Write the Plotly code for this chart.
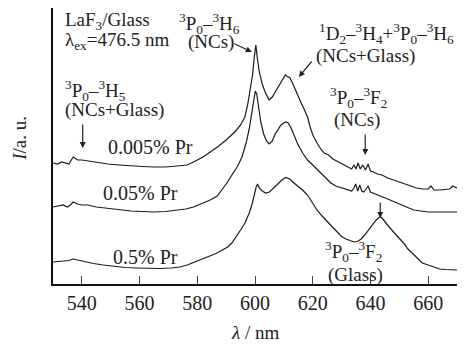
import plotly.graph_objects as go

# 0.005% Pr (top curve)
top_x = [530, 531.5, 533, 534.5, 535.5, 537, 538.5, 540, 542, 545, 549, 553, 557, 561, 565, 569, 573,
         576.5, 578.7, 580, 582, 584, 587, 590, 593, 595, 596.5, 597.5, 598.5, 599.2, 599.8, 600.3,
         600.8, 601.5, 602.5, 603.5, 604.9, 606, 607, 608, 609, 609.8, 610.5, 611.2, 612, 613, 614,
         615, 616, 617, 618.2, 619.2, 620.2, 621.7, 623, 624, 625.5, 627, 629, 631, 632.5, 633.5,
         634.3, 635, 635.7, 636.5, 637.3, 638.3, 639.2, 640, 641, 642.5, 644, 646, 648, 650, 652,
         654, 656, 658, 660, 661, 662, 664, 666, 667.5, 668.5, 670]
top_y = [121, 120, 122, 121, 120, 127, 124, 124, 123, 122, 120, 119, 118, 117.5, 117, 117, 118,
         119, 122, 124, 127, 131, 137, 144, 152, 159, 167, 180, 197, 210, 228, 239,
         226, 212, 200, 192, 184, 187, 192, 197, 203, 207, 209, 207.5, 206.5, 201, 194,
         187, 181, 175, 167, 156, 148, 140, 134, 131, 129, 125, 122, 119, 117, 115,
         119, 115, 121, 115, 119, 114, 120, 113, 112, 110, 109, 106, 104, 102, 100,
         98, 96, 95, 95, 98, 94, 94, 95, 95, 98, 96]

# 0.05% Pr (middle curve)
mid_x = [530, 531.5, 533.5, 535, 536, 537, 538.5, 540, 542, 545, 549, 553, 557, 561, 565, 569, 573,
         576, 578.7, 580.5, 582.2, 584.5, 586.9, 588.5, 590, 592, 594, 595.5, 597, 598, 598.8, 599.5,
         600.1, 600.6, 601.2, 602, 603, 604, 604.9, 606, 607, 608, 609, 610, 610.7, 611.5, 612.5,
         613.5, 614.8, 616.5, 618.2, 620, 621.7, 624, 626.3, 628, 630, 632, 633.5, 634.3, 634.9,
         635.6, 636.3, 637, 637.7, 638.5, 639.2, 640, 641.5, 643.4, 646, 648.3, 650.5, 652.5, 655,
         657, 660, 663, 666, 668.5, 670]
mid_y = [77, 78, 79, 77, 79, 82, 80, 79, 79, 77, 75.5, 74, 73, 72.5, 72, 72.5, 73.5,
         75, 77, 79, 81, 84, 88, 94, 100, 109, 118, 127, 142, 155, 168, 182,
         193, 190, 176, 162, 150, 143, 140, 143, 150, 155, 159, 161, 162, 161, 156,
         149, 140, 131, 124, 119, 114, 107, 101, 98, 96, 94, 93, 96, 100,
         93, 99, 93, 92, 95, 98, 92, 90, 88, 85, 82, 79, 77, 74,
         73, 72, 72, 72, 72, 72]

# 0.5% Pr (bottom curve)
bot_x = [530, 532, 534, 535.5, 537, 539, 541.6, 544, 547.4, 551, 555, 559, 563, 567, 571, 574, 576.5,
         579, 582.2, 584.5, 586.5, 588.7, 590.5, 592, 593.5, 595, 596.5, 598, 599.1, 599.8, 600.4,
         600.9, 601.5, 602.5, 603.7, 605, 606.5, 608, 609.5, 610.7, 612, 613.5, 614.8, 616.5, 618.2,
         620, 621.7, 623.9, 626.3, 628, 629.8, 631.5, 633.3, 634.3, 635.5, 636.8, 638, 639, 640,
         641, 642, 642.8, 643.4, 644, 645, 646.5, 648.3, 650, 651.5, 653, 655, 656.5, 658, 660,
         662.2, 664, 666, 668, 670]
bot_y = [22, 22.5, 23, 23.5, 25, 23.5, 22, 20.5, 19, 17.5, 16.5, 16, 15.5, 15.5, 16, 17, 19,
         22, 26, 28.5, 30.5, 34, 37, 41, 47, 54, 61, 71, 81, 90, 97,
         100, 96, 93, 91, 92, 96, 101, 104.5, 106.5, 105, 101, 98, 94, 89,
         81, 73, 66, 59, 53, 48, 45, 43, 42, 42.5, 45, 49, 53, 57,
         61, 64, 66, 67.5, 66, 62, 57, 51, 46, 41, 35, 29, 25, 21, 19,
         16.5, 15, 14.5, 14, 14]

x_ticks = [540, 560, 580, 600, 620, 640, 660]

FONT = "Liberation Serif"
TXT = "#222"
LINE = "#1a1a1a"

fig = go.Figure()
for xs, ys, name in [(top_x, top_y, "0.005% Pr"), (mid_x, mid_y, "0.05% Pr"), (bot_x, bot_y, "0.5% Pr")]:
    fig.add_trace(go.Scatter(x=xs, y=ys, mode="lines", name=name,
                             line=dict(color=LINE, width=1.2), showlegend=False))

def txt(x, y, s, anchor="center", size=19):
    return dict(x=x, y=y, xref="x", yref="y", text=s, showarrow=False,
                xanchor=anchor, yanchor="middle", font=dict(family=FONT, size=size, color=TXT))

def arrow(x, y, ax, ay):
    return dict(x=x, y=y, xref="x", yref="y", text="", showarrow=True, ax=ax, ay=ay,
                arrowhead=2, arrowsize=1, arrowwidth=1.2, arrowcolor=TXT)

annotations = [
    txt(533.3, 263, "LaF<sub>3</sub>/Glass", "left"),
    txt(533.3, 243, "λ<sub>ex</sub>=476.5 nm", "left"),
    txt(584.3, 261, "<sup>3</sup>P<sub>0</sub>–<sup>3</sup>H<sub>6</sub>"),
    txt(584.6, 242, "(NCs)"),
    arrow(598.9, 232, -19, -9),
    txt(533.3, 194, "<sup>3</sup>P<sub>0</sub>–<sup>3</sup>H<sub>5</sub>", "left"),
    txt(533.3, 174, "(NCs+Glass)", "left"),
    arrow(540.3, 136, 0, -25),
    txt(563.7, 137, "0.005% Pr", size=20),
    txt(560.3, 91, "0.05% Pr", size=20),
    txt(562.0, 27, "0.5% Pr", size=20),
    txt(669.5, 251, "<sup>1</sup>D<sub>2</sub>–<sup>3</sup>H<sub>4</sub>+<sup>3</sup>P<sub>0</sub>–<sup>3</sup>H<sub>6</sub>", "right"),
    txt(638.2, 228, "(NCs+Glass)"),
    arrow(615.2, 207, 14, -17),
    txt(635.7, 187, "<sup>3</sup>P<sub>0</sub>–<sup>3</sup>F<sub>2</sub>"),
    txt(635.4, 164, "(NCs)"),
    arrow(638.2, 129, 0, -22),
    txt(634.3, 33, "<sup>3</sup>P<sub>0</sub>–<sup>3</sup>F<sub>2</sub>"),
    txt(634.7, 9, "(Glass)"),
    arrow(643.4, 66, 0, -17),
    # axis titles
    dict(x=-0.082, y=0.529, xref="paper", yref="paper", text="<i>I</i>/a. u.", showarrow=False,
         textangle=-90, xanchor="center", yanchor="middle", font=dict(family=FONT, size=19, color=TXT)),
    dict(x=0.500, y=-0.176, xref="paper", yref="paper", text="<i>λ</i> / nm", showarrow=False,
         xanchor="center", yanchor="middle", font=dict(family=FONT, size=19, color=TXT)),
]

# the page body adds an 8 px offset, so the figure is sized to fit the 465x345 window
fig.update_layout(
    width=457, height=337,
    margin=dict(l=45, r=8, t=0, b=61),
    paper_bgcolor="white", plot_bgcolor="white",
    font=dict(family=FONT, size=20, color=TXT),
    annotations=annotations,
    xaxis=dict(range=[530, 670], tickvals=x_ticks, ticks="inside", ticklen=8, tickwidth=1,
               tickcolor="#444", showline=True, linecolor="#111", linewidth=1.5, mirror=True,
               showgrid=False, zeroline=False, automargin=False,
               tickfont=dict(family=FONT, size=20, color=TXT)),
    yaxis=dict(range=[0, 276], showticklabels=False, ticks="", showline=True, linecolor="#111",
               linewidth=1.5, mirror=True, showgrid=False, zeroline=False, automargin=False),
)

fig.write_html("out.html")
